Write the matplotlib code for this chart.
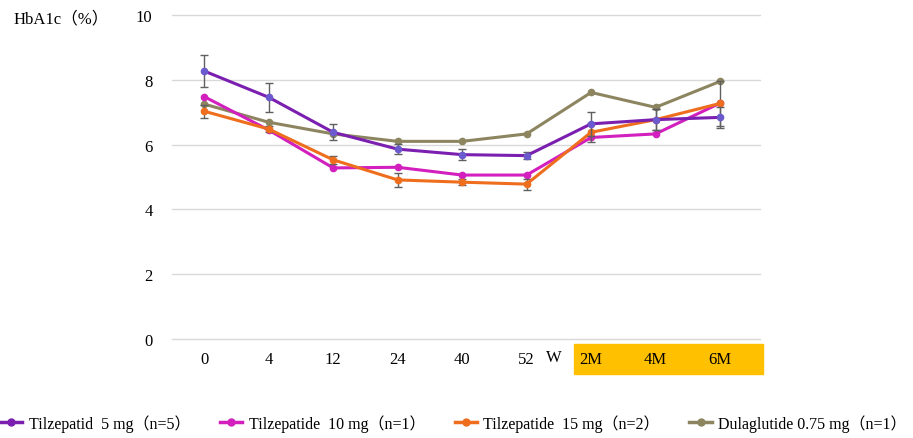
import numpy as np
import matplotlib
matplotlib.use('Agg')
import matplotlib.pyplot as plt
from matplotlib.patches import Rectangle
from matplotlib.lines import Line2D
import matplotlib.transforms as mtransforms

plt.rcParams['font.family'] = ['Liberation Serif', 'Noto Sans CJK SC', 'DejaVu Serif']

# categorias del eje x (semanas y luego meses)
categories = ['0', '4', '12', '24', '40', '52', '2M', '4M', '6M']

# HbA1c (%) por grupo
tz5 = [8.27, 7.46, 6.38, 5.86, 5.69, 5.66, 6.64, 6.77, 6.84]
tz5_err = [0.49, 0.45, 0.25, 0.16, 0.16, 0.10, 0.38, 0.32, 0.33]
tz10 = [7.48, 6.45, 5.28, 5.30, 5.06, 5.06, 6.22, 6.33, 7.28]
tz15 = [7.03, 6.48, 5.53, 4.91, 4.84, 4.78, 6.38, 6.77, 7.27]
tz15_err = [0.20, 0.10, 0.12, 0.22, 0.10, 0.17, 0.30, 0.32, 0.70]
dula = [7.25, 6.69, 6.33, 6.10, 6.10, 6.33, 7.61, 7.15, 7.95]

labels = ['Tilzepatid  5 mg（n=5）', 'Tilzepatide  10 mg（n=1）',
          'Tilzepatide  15 mg（n=2）', 'Dulaglutide 0.75 mg（n=1）']
colors = ['#7A1FB0', '#D21FBE', '#EE6E1E', '#8C8560']

x = np.arange(len(categories))

fig = plt.figure(figsize=(9.13, 4.39), dpi=100)
ax = fig.add_axes([172/913, 1-340/439, (760-172)/913, (340-16)/439])

ekw = dict(ecolor='#606060', elinewidth=1, capsize=3, capthick=1)
ax.errorbar(x, tz5, yerr=tz5_err, color=colors[0], lw=2.2, marker='o', ms=4.5,
            mfc='#6A5ACD', mec='#6A5ACD', zorder=4, **ekw)
ax.plot(x, tz10, color=colors[1], lw=2.2, marker='o', ms=4.5, zorder=3)
ax.errorbar(x, tz15, yerr=tz15_err, color=colors[2], lw=2.2, marker='o', ms=4.5,
            zorder=3, **ekw)
ax.plot(x, dula, color=colors[3], lw=2.2, marker='o', ms=4.5, zorder=2)

ax.set_ylim(0, 10)
ax.set_xlim(-0.5, 8.62)
ax.set_yticks([0, 2, 4, 6, 8, 10])
for yv in [0, 2, 4, 6, 8, 10]:
    ax.axhline(yv, color='#D9D9D9', lw=1, zorder=0, clip_on=False)
for s in ax.spines.values():
    s.set_visible(False)
ax.set_xticks(x)
ax.set_xticklabels(categories)
ax.tick_params(axis='both', length=0, labelsize=12)
ax.tick_params(axis='x', pad=9)
ax.tick_params(axis='y', pad=14)

# recuadro amarillo detras de los meses
trans = mtransforms.blended_transform_factory(ax.transData, ax.transAxes)
ax.add_patch(Rectangle((5.74, -0.108), 2.92, 0.092, transform=trans,
                       color='#FFC000', clip_on=False, zorder=0))
ax.text(5.42, -0.057, 'W', transform=trans, ha='center', va='center', fontsize=12)

fig.text(14/913, 1-19/439, 'HbA1c（%）', ha='left', va='center', fontsize=12)

handles = [Line2D([], [], color=c, lw=2.5, marker='o', ms=5) for c in colors]
fig.legend(handles, labels, loc='center left', bbox_to_anchor=(0.0, 1-424/439),
           ncol=4, frameon=False, fontsize=11.5, handlelength=1.4,
           columnspacing=1.85, handletextpad=0.4, borderpad=0, borderaxespad=0)

fig.savefig('out.png', dpi=100)
